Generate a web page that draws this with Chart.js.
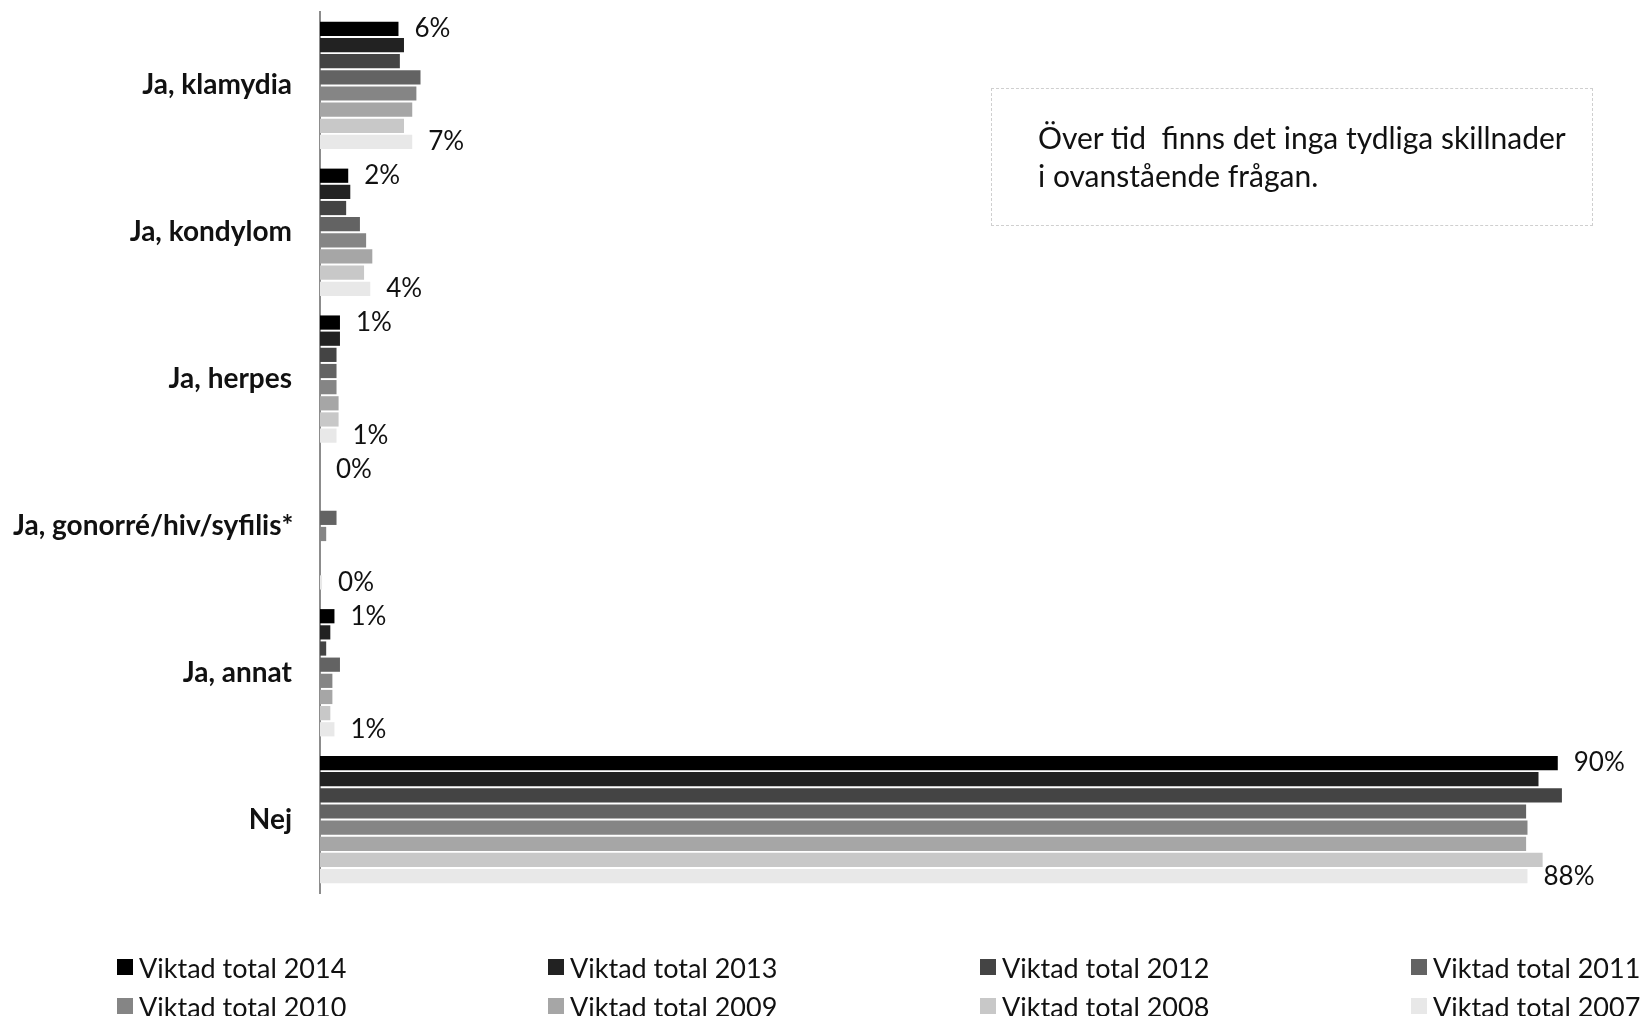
<!DOCTYPE html>
<html>
<head>
<meta charset="utf-8">
<script src="https://cdn.jsdelivr.net/npm/chart.js@4/dist/chart.umd.min.js"></script>
<style>
  html, body { margin: 0; padding: 0; background: #fff; }
  #wrap { position: relative; width: 1641px; height: 1016px; overflow: hidden; }
  #c { position: absolute; left: 0; top: 0; }
  #note {
    position: absolute; left: 991px; top: 88px; width: 602px; height: 138px;
    border: 1.5px dashed #cfcfcf; box-sizing: border-box;
    font-family: Lato, "Open Sans", sans-serif; font-size: 30px; color: #111;
    padding: 29px 0 0 46px; line-height: 38px; white-space: pre;
  }
  #legend { position: absolute; left: 0; top: 0; width: 1641px; height: 1016px; pointer-events: none;
    font-family: Lato, "Open Sans", sans-serif; font-size: 27px; color: #111; }
  .li { position: absolute; display: flex; align-items: center; white-space: nowrap; }
  .sw { width: 16px; height: 16px; margin-right: 6px; }
</style>
</head>
<body>
<div id="wrap">
  <canvas id="c" width="1641" height="1016"></canvas>
  <div id="note">Över tid  finns det inga tydliga skillnader
i ovanstående frågan.</div>
  <div id="legend"></div>
</div>
<script>
const categories = ["Ja, klamydia", "Ja, kondylom", "Ja, herpes", "Ja, gonorré/hiv/syfilis*", "Ja, annat", "Nej"];
const seriesNames = ["Viktad total 2014", "Viktad total 2013", "Viktad total 2012", "Viktad total 2011",
                     "Viktad total 2010", "Viktad total 2009", "Viktad total 2008", "Viktad total 2007"];
const seriesColors = ["#000000", "#222222", "#444444", "#636363", "#858585", "#a6a6a6", "#c8c8c8", "#e8e8e8"];
const v2014 = [5.7, 2.05, 1.45, 0,    1.05, 89.9];
const v2013 = [6.1, 2.2,  1.45, 0,    0.75, 88.5];
const v2012 = [5.8, 1.9,  1.2,  0,    0.45, 90.2];
const v2011 = [7.3, 2.9,  1.2,  1.2,  1.45, 87.6];
const v2010 = [7.0, 3.35, 1.2,  0.45, 0.9,  87.7];
const v2009 = [6.7, 3.8,  1.35, 0,    0.9,  87.6];
const v2008 = [6.1, 3.2,  1.35, 0,    0.75, 88.8];
const v2007 = [6.7, 3.65, 1.2,  0.15, 1.05, 87.7];
const seriesValues = [v2014, v2013, v2012, v2011, v2010, v2009, v2008, v2007];
const labelledSeries = [0, 7];

const FONT = "Lato, 'Open Sans', sans-serif";

const datasets = seriesNames.map((n, i) => ({
  label: n,
  data: seriesValues[i],
  backgroundColor: seriesColors[i],
  borderWidth: 0,
  categoryPercentage: 0.88,
  barPercentage: 0.88
}));

const valueLabels = {
  id: 'valueLabels',
  afterDatasetsDraw(chart) {
    const ctx = chart.ctx;
    ctx.save();
    ctx.font = "26px " + FONT;
    ctx.fillStyle = "#111";
    ctx.textBaseline = "middle";
    ctx.textAlign = "left";
    labelledSeries.forEach(di => {
      const meta = chart.getDatasetMeta(di);
      meta.data.forEach((el, k) => {
        const v = chart.data.datasets[di].data[k];
        ctx.fillText(Math.round(v) + "%", el.x + 16, el.y);
      });
    });
    ctx.restore();
  }
};

// category labels drawn at the y scale's own tick positions
const catLabels = {
  id: 'catLabels',
  afterDraw(chart) {
    const ctx = chart.ctx, ys = chart.scales.y;
    ctx.save();
    ctx.font = "bold 28px " + FONT;
    ctx.fillStyle = "#111";
    ctx.textBaseline = "middle";
    chart.data.labels.forEach((lab, i) => {
      const y = ys.getPixelForTick(i);
      const w = ctx.measureText(lab).width;
      let x = ys.right - 28 - w;
      if (x < 13) x = 13;
      ctx.textAlign = "left";
      ctx.fillText(lab, x, y);
    });
    ctx.restore();
  }
};

new Chart(document.getElementById('c'), {
  type: 'bar',
  data: { labels: categories, datasets },
  options: {
    indexAxis: 'y',
    responsive: false,
    animation: false,
    layout: { padding: { top: 12, bottom: 123, left: 0, right: 13 } },
    plugins: { legend: { display: false }, tooltip: { enabled: false } },
    scales: {
      x: { display: false, min: 0, max: 95 },
      y: {
        grid: { display: false, drawTicks: false },
        border: { display: true, color: '#8c8c8c', width: 2 },
        ticks: { display: false },
        afterFit: s => { s.width = 320; s.paddingTop = 0; s.paddingBottom = 0; }
      }
    }
  },
  plugins: [valueLabels, catLabels]
});

// legend (4 columns x 2 rows)
const lg = document.getElementById('legend');
const colX = [117, 548, 980, 1411];
const rowY = [967, 1006];
seriesNames.forEach((n, i) => {
  const d = document.createElement('div');
  d.className = 'li';
  d.style.left = colX[i % 4] + 'px';
  d.style.top = (rowY[Math.floor(i / 4)] - 16) + 'px';
  d.style.height = '32px';
  d.innerHTML = '<span class="sw" style="background:' + seriesColors[i] + '"></span><span>' + n + '</span>';
  lg.appendChild(d);
});
</script>
</body>
</html>
